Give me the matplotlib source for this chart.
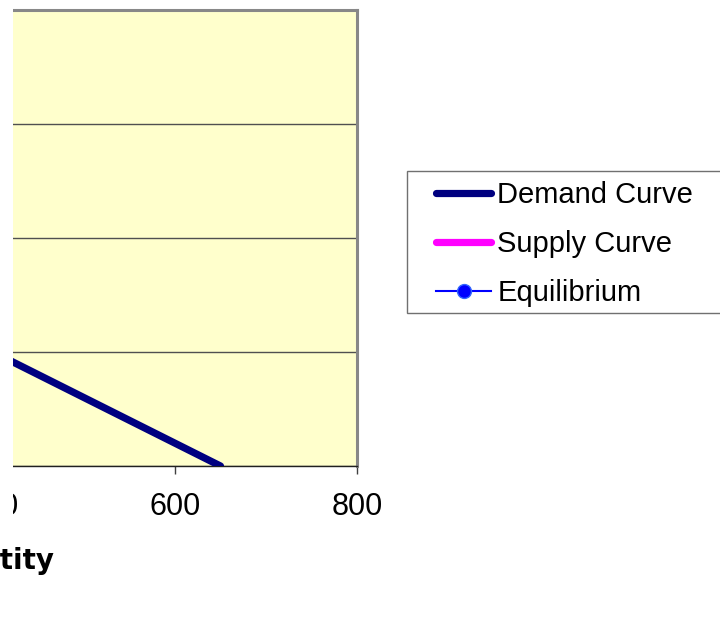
import matplotlib
matplotlib.use("Agg")
import matplotlib.pyplot as plt
from matplotlib.patches import Rectangle

plt.rcParams['font.family'] = ['Liberation Sans', 'DejaVu Sans']

# data
demand_q = [0, 650]
demand_p = [26, 0]
supply_q = [0, 400]
supply_p = [2, 10]
equil_q = [400]
equil_p = [10]
x_ticks = [400, 600, 800]
y_ticks = [0, 10, 20, 30, 40]

W, H = 720, 624
fig = plt.figure(figsize=(W / 100, H / 100), dpi=100)
# plot area (the original chart is cropped on the left)
left, right, top, bottom = 13, 357, 10, 466
ax = fig.add_axes([left / W, 1 - bottom / H, (right - left) / W, (bottom - top) / H])
ax.set_facecolor('#FFFFCC')

ax.plot(demand_q, demand_p, color='#000080', lw=5.2, solid_capstyle='round',
        label='Demand Curve', zorder=3)
ax.plot(supply_q, supply_p, color='#FF00FF', lw=5.2, solid_capstyle='round',
        label='Supply Curve', zorder=3)
ax.plot(equil_q, equil_p, color='#0000FF', lw=1.5, marker='o', markersize=10,
        markerfacecolor='#0000FF', markeredgecolor='#3366FF',
        label='Equilibrium', zorder=4)

xmin = 600 - (175 - left) / 182 * 200
ax.set_xlim(xmin, 800)
ax.set_ylim(0, 40)
ax.set_yticks(y_ticks)
ax.yaxis.grid(True, color='#505050', lw=1)
ax.set_axisbelow(True)
ax.tick_params(axis='y', length=0, labelleft=False)

shown = [t for t in x_ticks if t >= xmin]
ax.set_xticks(shown)
ax.set_xticklabels([str(t) for t in shown])
ax.tick_params(axis='x', direction='out', length=6, width=1, color='#404040',
               labelsize=22, pad=13)
for t in x_ticks:
    if t < xmin:
        ax.text(t, -(6 + 13) / 72 * 100 / (bottom - top), str(t), fontsize=22,
                ha='center', va='top', transform=ax.get_xaxis_transform(),
                clip_on=False)

ax.spines['left'].set_visible(False)
ax.spines['top'].set_color('#888888')
ax.spines['top'].set_linewidth(2.2)
ax.spines['right'].set_color('#888888')
ax.spines['right'].set_linewidth(2.2)
ax.spines['bottom'].set_color('#202020')
ax.spines['bottom'].set_linewidth(1)

ax.set_xlabel('Quantity', fontsize=20, fontweight='bold', family='DejaVu Sans')
ax.xaxis.set_label_coords((-13 - left) / (right - left), -(547 - bottom) / (bottom - top))

# white strip along the cropped left edge, as in the original picture
fig.patches.append(Rectangle((0, 1 - 530 / H), 13 / W, 530 / H,
                             transform=fig.transFigure, facecolor='white',
                             edgecolor='none', zorder=10))

# legend box
fig.patches.append(Rectangle((407 / W, 1 - 313 / H), 330 / W, 142 / H,
                             transform=fig.transFigure, facecolor='white',
                             edgecolor='#707070', lw=1, zorder=1))
handles, labels = ax.get_legend_handles_labels()
leg = fig.legend(handles, labels, loc='upper left',
                 bbox_to_anchor=(436 / W, 1 - 181 / H),
                 frameon=False, fontsize=21, borderpad=0, borderaxespad=0,
                 handlelength=1.9, handletextpad=0.2, labelspacing=0.72,
                 numpoints=1)
leg.set_zorder(2)

fig.savefig('out.png', dpi=100)
